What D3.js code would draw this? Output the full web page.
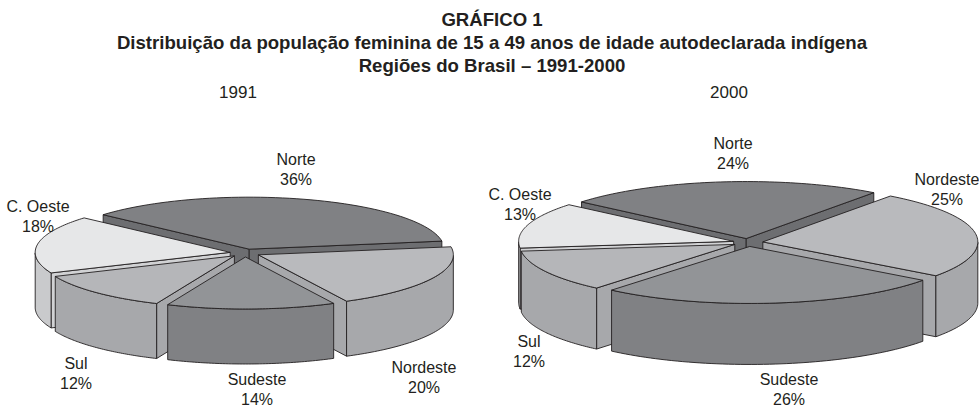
<!DOCTYPE html>
<html>
<head>
<meta charset="utf-8">
<script src="https://cdn.jsdelivr.net/npm/d3@7"></script>
<style>
    body { margin: 0; background: #fff; }
    text { font-family: "Liberation Sans", Arial, sans-serif; fill: #231f20; }
</style>
</head>
<body>
<div id="chart"></div>
<script>
const regions = ["Norte", "Nordeste", "Sudeste", "Sul", "C. Oeste"];
const values1991 = [36, 20, 14, 12, 18];
const values2000 = [24, 25, 26, 12, 13];
const titleLines = [
    "GRÁFICO 1",
    "Distribuição da população feminina de 15 a 49 anos de idade autodeclarada indígena",
    "Regiões do Brasil – 1991-2000"
];

const width = 979;
const height = 408;

// colors per region: top face, outer wall, cut faces
const topColors = ["#808184", "#b9babd", "#929497", "#b5b6b9", "#e6e7e8"];
const wallColors = ["#6d6e71", "#a7a8ab", "#808184", "#a7a8ab", "#c9cacc"];
const cutColors = ["#6d6e71", "#a7a8ab", "#808184", "#a7a8ab", "#d1d2d4"];

const pies = [
    {
        year: "1991", yearX: 238, values: values1991, start: -48.5,
        cx: 245, cy: 253, rx: 195, ry: 52, depth: 55, explode: 15,
        labelPos: [[296, 160], [424, 368], [257, 379.5], [76, 364], [38, 207]]
    },
    {
        year: "2000", yearX: 729, values: values2000, start: -50,
        cx: 748, cy: 242.5, rx: 215, ry: 57, depth: 61, explode: 15,
        labelPos: [[733, 144], [947, 180], [789, 379.5], [529, 342], [520, 195]]
    }
];

const svg = d3.select("#chart")
    .append("svg")
    .attr("width", width)
    .attr("height", height);

svg.selectAll("text.title")
    .data(titleLines)
    .enter()
    .append("text")
    .attr("class", "title")
    .attr("x", 492)
    .attr("y", (d, i) => 26 + i * 22.8)
    .attr("text-anchor", "middle")
    .attr("font-size", "18.6px")
    .attr("font-weight", "bold")
    .text(d => d);

function drawPie(cfg) {
    svg.append("text")
        .attr("x", cfg.yearX)
        .attr("y", 98)
        .attr("text-anchor", "middle")
        .attr("font-size", "17px")
        .text(cfg.year);

    // unit circle -> page, flattened so it looks tilted
    const x = d3.scaleLinear().domain([-1, 1]).range([cfg.cx - cfg.rx, cfg.cx + cfg.rx]);
    const y = d3.scaleLinear().domain([-1, 1]).range([cfg.cy - cfg.ry, cfg.cy + cfg.ry]);

    const arcs = d3.pie()
        .sort(null)
        .startAngle(cfg.start * Math.PI / 180)
        .endAngle((cfg.start + 360) * Math.PI / 180)(cfg.values);

    const line = d3.line().x(d => d[0]).y(d => d[1]);
    const off = cfg.explode / cfg.rx;

    const slices = arcs.map((a, i) => {
        const mid = (a.startAngle + a.endAngle) / 2;
        const pt = (angle, r) => [
            x(off * Math.sin(mid) + r * Math.sin(angle)),
            y(-off * Math.cos(mid) - r * Math.cos(angle))
        ];
        const steps = d3.range(0, 61).map(k => a.startAngle + (a.endAngle - a.startAngle) * k / 60);
        return { i, mid, pt, steps, a };
    });

    // paint back to front
    slices.sort((p, q) => Math.cos(q.mid) - Math.cos(p.mid));

    slices.forEach(s => {
        const g = svg.append("g")
            .attr("stroke", "#231f20")
            .attr("stroke-width", 0.9)
            .attr("stroke-linejoin", "round");
        const apex = s.pt(0, 0);
        const down = p => [p[0], p[1] + cfg.depth];

        // cut faces, only the ones turned to the viewer
        [[s.a.startAngle, -Math.PI / 2], [s.a.endAngle, Math.PI / 2]].forEach(([angle, turn]) => {
            if (Math.cos(angle + turn) >= 0) return;
            const e = s.pt(angle, 1);
            g.append("path")
                .attr("d", line([apex, e, down(e), down(apex)]) + "Z")
                .attr("fill", cutColors[s.i]);
        });

        // outer wall, front half of the rim only
        const front = s.steps.filter(t => Math.cos(t) <= 0).map(t => s.pt(t, 1));
        if (front.length > 1) {
            g.append("path")
                .attr("d", line(front.concat(front.map(down).reverse())) + "Z")
                .attr("fill", wallColors[s.i]);
        }

        const rim = s.steps.map(t => s.pt(t, 1));
        g.append("path")
            .attr("d", line([apex].concat(rim)) + "Z")
            .attr("fill", topColors[s.i]);
    });

    regions.forEach((name, i) => {
        const t = svg.append("text")
            .attr("text-anchor", "middle")
            .attr("font-size", "16px");
        t.append("tspan")
            .attr("x", cfg.labelPos[i][0])
            .attr("y", cfg.labelPos[i][1] + 5)
            .text(name);
        t.append("tspan")
            .attr("x", cfg.labelPos[i][0])
            .attr("y", cfg.labelPos[i][1] + 25)
            .text(cfg.values[i] + "%");
    });
}

pies.forEach(drawPie);
</script>
</body>
</html>
